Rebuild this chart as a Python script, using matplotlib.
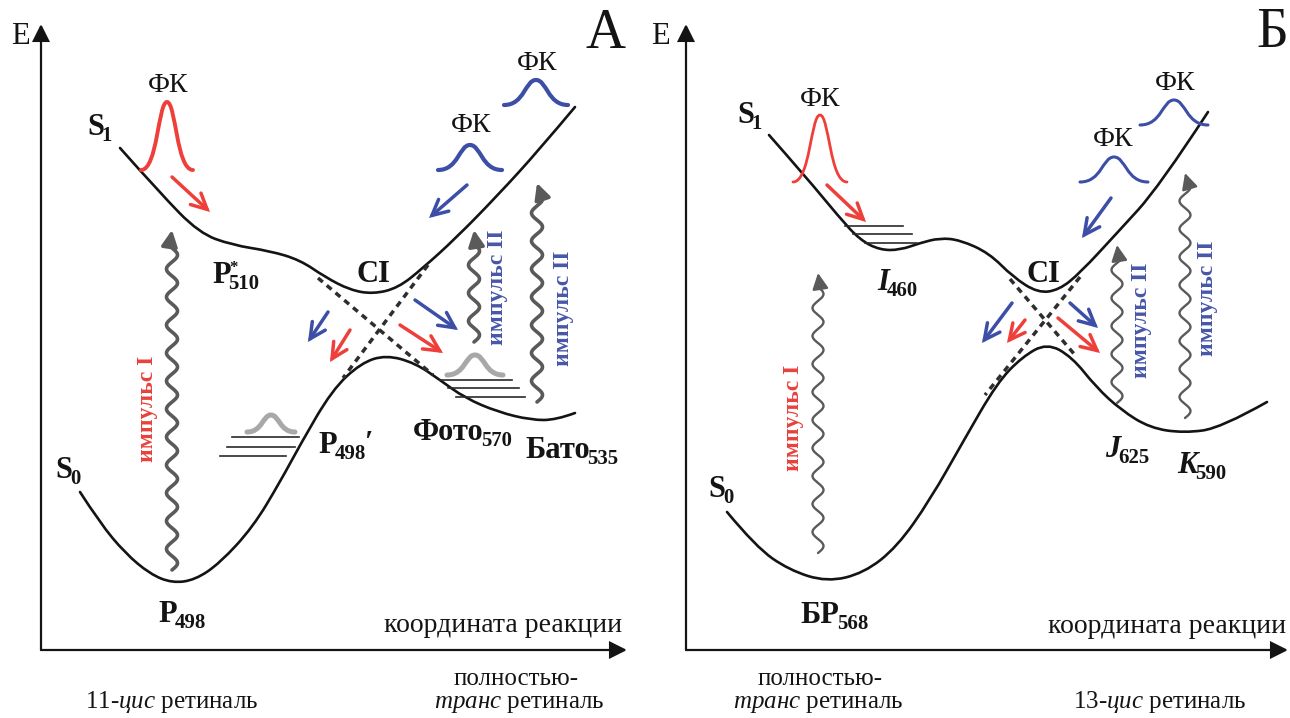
import numpy as np
import matplotlib
matplotlib.use("Agg")
import matplotlib.pyplot as plt
from matplotlib.path import Path
from matplotlib.patches import PathPatch, FancyArrowPatch

plt.rcParams['font.family'] = ['Liberation Serif', 'DejaVu Serif']
plt.rcParams['mathtext.fontset'] = 'custom'
plt.rcParams['mathtext.rm'] = 'Liberation Serif'
plt.rcParams['mathtext.it'] = 'Liberation Serif:italic'
plt.rcParams['mathtext.bf'] = 'Liberation Serif:bold'

# --- potential energy curves (picture coordinates, y grows downwards) ---
# panel A (rhodopsin)
s1_a_x = [120, 160, 199, 232, 270, 300, 325, 350, 373, 398, 423, 456, 498, 539, 575]
s1_a_y = [148, 193, 233, 245, 251, 260, 277, 290, 294, 288, 268, 238, 195, 150, 107]
s0_a_x = [80, 100, 125, 150, 172, 195, 220, 253, 280, 300, 332, 361, 386, 415, 440, 465, 498, 531, 556, 575]
s0_a_y = [492, 523, 553, 574, 583, 580, 563, 527, 482, 445, 390, 363, 355, 363, 380, 398, 412, 420, 420, 413]
# panel B (bacteriorhodopsin)
s1_b_x = [769, 806, 839, 860, 880, 900, 920, 940, 960, 989, 1013, 1038, 1059, 1080, 1117, 1159, 1208]
s1_b_y = [135, 177, 217, 240, 250, 250, 243, 238, 240, 253, 277, 293, 290, 273, 233, 187, 112]
s0_b_x = [727, 756, 789, 827, 864, 897, 930, 964, 997, 1022, 1047, 1072, 1096, 1121, 1150, 1184, 1221, 1267]
s0_b_y = [512, 547, 570, 582, 573, 547, 500, 440, 383, 357, 343, 357, 387, 410, 428, 433, 428, 402]

# diabatic (dashed) crossings near CI: (x0, y0, x1, y1)
dashed_a = [(318, 278, 433, 375), (428, 265, 343, 378)]
dashed_b = [(1010, 279, 1075, 355), (1080, 277, 985, 395)]

# wave packets ФК: (x_left, x_right, y_base, y_peak)
packets_red = [(141, 193, 170, 102), (793, 847, 182, 115)]
packets_blue = [(504, 568, 105, 80), (438, 502, 170, 145), (1080, 1148, 182, 157), (1140, 1208, 125, 100)]
packets_gray = [(247, 295, 432, 415), (447, 503, 375, 355)]

# vibrational levels: (x_left, x_right, y)
levels = [(232, 299, 437), (227, 295, 447), (220, 286, 456),
          (440, 512, 380), (448, 519, 388), (456, 525, 397),
          (845, 903, 226), (853, 912, 234), (865, 917, 243)]

# motion arrows: (x_tail, y_tail, x_head, y_head)
arrows_red = [(172, 177, 210, 212), (350, 330, 330, 362), (400, 325, 443, 353),
              (827, 185, 866, 222), (1025, 320, 1007, 343), (1058, 318, 1100, 353)]
arrows_blue = [(467, 185, 429, 218), (328, 312, 308, 342), (415, 300, 458, 330),
               (1111, 198, 1082, 238), (1012, 303, 982, 343), (1070, 303, 1098, 328)]

# excitation pulses (wavy arrows): (x, y_bottom, y_top)
pulses_a = [(172, 570, 230), (474, 342, 230), (537, 402, 183)]
pulses_b = [(818, 553, 273), (1117, 403, 245), (1185, 418, 173)]

RED = '#ef3f3a'
BLUE = '#3c4ea6'
INK = '#141414'

fig = plt.figure(figsize=(12.9, 7.18), dpi=100)
ax = fig.add_axes([0, 0, 1, 1])
ax.set_xlim(0, 1290)
ax.set_ylim(718, 0)
ax.axis('off')


def smooth(xs, ys, **kw):
    pts = list(zip(xs, ys))
    verts = [pts[0]]
    codes = [Path.MOVETO]
    for i in range(1, len(pts) - 2):
        mid = ((pts[i][0] + pts[i + 1][0]) / 2, (pts[i][1] + pts[i + 1][1]) / 2)
        verts += [pts[i], mid]
        codes += [Path.CURVE3, Path.CURVE3]
    verts += [pts[-2], pts[-1]]
    codes += [Path.CURVE3, Path.CURVE3]
    ax.add_patch(PathPatch(Path(verts, codes), fill=False, capstyle='round', **kw))


def packet(xl, xr, yb, yp, color, lw):
    xc = (xl + xr) / 2
    w = xr - xl
    verts = [(xl, yb), (xl + 0.32 * w, yb), (xc - 0.17 * w, yp), (xc, yp),
             (xc + 0.17 * w, yp), (xr - 0.32 * w, yb), (xr, yb)]
    codes = [Path.MOVETO] + [Path.CURVE4] * 6
    ax.add_patch(PathPatch(Path(verts, codes), fill=False, ec=color, lw=lw, capstyle='round'))


def arrow(x0, y0, x1, y1, color, style='->', lw=2.5, ms=28):
    ax.add_patch(FancyArrowPatch((x0, y0), (x1, y1), arrowstyle=style, mutation_scale=ms,
                                 color=color, lw=lw, shrinkA=0, shrinkB=0,
                                 capstyle='round', joinstyle='miter'))


def wavy(x, ybot, ytop, color, lw, amp=5.5, period=28):
    y = np.linspace(ybot, ytop + 16, 400)
    xx = x + amp * np.sin((ybot - y) / period * 2 * np.pi)
    ax.plot(xx, y, color=color, lw=lw, solid_capstyle='round')
    ax.add_patch(FancyArrowPatch((xx[-1], y[-1]), (x, ytop), arrowstyle='-|>', mutation_scale=24,
                                 color=color, lw=lw, shrinkA=0, shrinkB=0))


def state(x, y, main, sub, style='normal', sup=None, prime=False, size=22):
    t = ax.text(x, y, main, fontsize=size, fontweight='bold', fontstyle=style,
                ha='left', va='baseline', color=INK)
    s = ax.annotate(sub, xy=(1, 0), xycoords=t, xytext=(-1.5, 1), textcoords='offset points',
                    fontsize=size * 0.68, fontweight='bold', ha='left', va='baseline', color=INK)
    if sup:
        ax.annotate(sup, xy=(1, 1), xycoords=t, xytext=(-1, 1), textcoords='offset points',
                    fontsize=size * 0.55, fontweight='bold', ha='left', va='top', color=INK)
    if prime:
        ax.annotate('′', xy=(1, 1), xycoords=s, xytext=(-1, 10), textcoords='offset points',
                    fontsize=size, fontweight='bold', ha='left', va='top', color=INK)


# axes of both panels
for x0, xend in [(41, 627), (686, 1288)]:
    arrow(x0, 650, x0, 24, INK, style='-|>', lw=1.6, ms=26)
    arrow(x0, 650, xend, 650, INK, style='-|>', lw=1.6, ms=26)

# curves
for xs, ys in [(s1_a_x, s1_a_y), (s0_a_x, s0_a_y), (s1_b_x, s1_b_y), (s0_b_x, s0_b_y)]:
    smooth(xs, ys, ec=INK, lw=1.9)

for x0, y0, x1, y1 in dashed_a + dashed_b:
    ax.plot([x0, x1], [y0, y1], color='#2e2e2e', lw=2.5, linestyle=(0, (1.8, 1.5)))

for xl, xr, y in levels:
    ax.plot([xl, xr], [y, y], color='#2a2a2a', lw=1.2)

for i, p in enumerate(packets_red):
    packet(*p, RED, 2.8 if i == 0 else 2.0)
for i, p in enumerate(packets_blue):
    packet(*p, BLUE, 3.0 if i < 2 else 2.2)
for p in packets_gray:
    packet(*p, '#a8a8a8', 3.6)

for a in arrows_red:
    arrow(*a, RED)
for a in arrows_blue:
    arrow(*a, BLUE)

for x, yb, yt in pulses_a:
    wavy(x, yb, yt, '#5a5a5a', 2.6)
for x, yb, yt in pulses_b:
    wavy(x, yb, yt, '#5a5a5a', 1.7)

# texts panel A
ax.text(20, 36, 'E', fontsize=22, ha='center', va='center', color=INK)
ax.text(606, 34, 'А', fontsize=40, ha='center', va='center', color=INK)
for x, y in [(168, 86), (471, 126), (537, 63)]:
    ax.text(x, y, 'ФК', fontsize=20, ha='center', va='center', color=INK)
state(87, 135, 'S', '1')
state(55, 478, 'S', '0')
state(158, 622, 'P', '498')
state(212, 283, 'P', '510', sup='*')
state(318, 453, 'P', '498', prime=True)
state(413, 440, 'Фото', '570')
state(525, 458, 'Бато', '535')
ax.text(357, 282, 'CI', fontsize=22, fontweight='bold', ha='left', va='baseline', color=INK)
ax.text(622, 632, 'координата реакции', fontsize=20, ha='right', va='baseline', color=INK)
ax.text(516, 685, 'полностью-', fontsize=18, ha='center', va='baseline', color=INK)
ax.text(519, 708, '$\\mathit{транс}$ ретиналь', fontsize=18, ha='center', va='baseline', color=INK)
ax.text(172, 708, '11-$\\mathit{цис}$ ретиналь', fontsize=18, ha='center', va='baseline', color=INK)
ax.text(147, 409, 'импульс I', rotation=90, fontsize=17, fontweight='bold', color='#e8413c',
        ha='center', va='center')
ax.text(498, 287, 'импульс II', rotation=90, fontsize=17, fontweight='bold', color='#4757a8',
        ha='center', va='center')
ax.text(563, 308, 'импульс II', rotation=90, fontsize=17, fontweight='bold', color='#4757a8',
        ha='center', va='center')

# texts panel B
ax.text(660, 37, 'E', fontsize=22, ha='center', va='center', color=INK)
ax.text(1272, 33, 'Б', fontsize=40, ha='center', va='center', color=INK)
for x, y in [(820, 100), (1113, 140), (1175, 83)]:
    ax.text(x, y, 'ФК', fontsize=20, ha='center', va='center', color=INK)
state(737, 123, 'S', '1')
state(708, 497, 'S', '0')
state(800, 623, 'БР', '568')
state(877, 290, 'I', '460', style='italic')
state(1105, 457, 'J', '625', style='italic')
state(1177, 473, 'K', '590', style='italic')
ax.text(1026, 282, 'CI', fontsize=22, fontweight='bold', ha='left', va='baseline', color=INK)
ax.text(1286, 633, 'координата реакции', fontsize=20, ha='right', va='baseline', color=INK)
ax.text(820, 685, 'полностью-', fontsize=18, ha='center', va='baseline', color=INK)
ax.text(818, 708, '$\\mathit{транс}$ ретиналь', fontsize=18, ha='center', va='baseline', color=INK)
ax.text(1160, 708, '13-$\\mathit{цис}$ ретиналь', fontsize=18, ha='center', va='baseline', color=INK)
ax.text(794, 418, 'импульс I', rotation=90, fontsize=17, fontweight='bold', color='#e8413c',
        ha='center', va='center')
ax.text(1142, 320, 'импульс II', rotation=90, fontsize=17, fontweight='bold', color='#4757a8',
        ha='center', va='center')
ax.text(1207, 298, 'импульс II', rotation=90, fontsize=17, fontweight='bold', color='#4757a8',
        ha='center', va='center')

fig.savefig('out.png', dpi=100)
